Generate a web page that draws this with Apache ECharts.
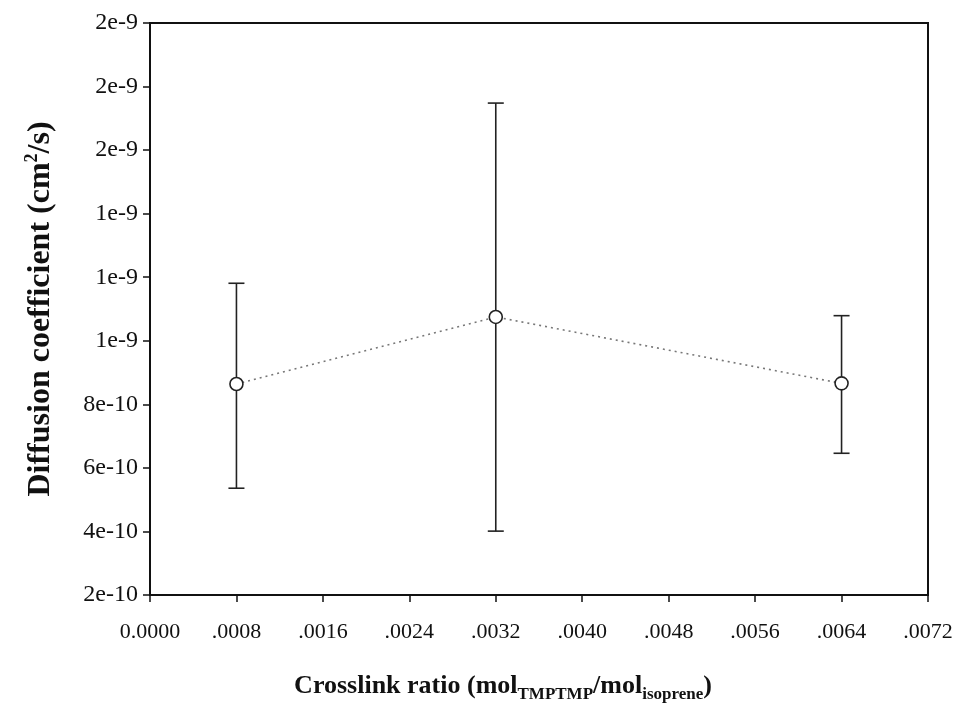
<!DOCTYPE html>
<html>
<head>
<meta charset="utf-8">
<script src="https://cdn.jsdelivr.net/npm/echarts@6/dist/echarts.min.js"></script>
<style>
  html, body { margin: 0; padding: 0; background: #fff; }
  #chart { width: 962px; height: 710px; }
</style>
</head>
<body>
<div id="chart"></div>
<script>
// Data
var crosslinkRatio = [0.0008, 0.0032, 0.0064];
var diffusionMean  = [8.64e-10, 1.075e-9, 8.66e-10];
var errorLow       = [5.36e-10, 4.01e-10, 6.46e-10];
var errorHigh      = [1.181e-9, 1.748e-9, 1.079e-9];

var xMin = 0, xMax = 0.0072, xStep = 0.0008;
var yMin = 2e-10, yMax = 2e-9, yStep = 2e-10;

var serif = '"Liberation Serif", "DejaVu Serif", serif';

var lineData = crosslinkRatio.map(function (x, i) { return [x, diffusionMean[i]]; });
var errData = crosslinkRatio.map(function (x, i) { return [x, errorLow[i], errorHigh[i]]; });

var chart = echarts.init(document.getElementById('chart'), null, { renderer: 'canvas' });
chart.setOption({
  backgroundColor: '#ffffff',
  animation: false,
  grid: {
    left: 150, right: 34, top: 23, bottom: 115,
    show: true, borderColor: '#111', borderWidth: 2, backgroundColor: 'transparent'
  },
  xAxis: {
    type: 'value', min: xMin, max: xMax, interval: xStep,
    name: '{a|Crosslink ratio (mol}{s|TMPTMP}{a|/mol}{s|isoprene}{a|)}',
    nameLocation: 'middle', nameGap: 76,
    nameTextStyle: {
      padding: [0, 72, 0, 0],
      rich: {
        a: { fontFamily: serif, fontWeight: 'bold', fontSize: 26, color: '#111', verticalAlign: 'bottom', lineHeight: 28 },
        s: { fontFamily: serif, fontWeight: 'bold', fontSize: 17, color: '#111', verticalAlign: 'bottom', lineHeight: 10, padding: [0, 0, -4, 0] }
      }
    },
    axisLine: { lineStyle: { color: '#111', width: 2 } },
    axisTick: { show: true, inside: false, length: 7, lineStyle: { color: '#111', width: 1.5 } },
    axisLabel: {
      margin: 26, fontFamily: serif, fontSize: 22, color: '#111',
      formatter: function (v) {
        if (Math.abs(v) < 1e-12) return '0.0000';
        return v.toFixed(4).replace(/^0/, '');
      }
    },
    splitLine: { show: false }
  },
  yAxis: {
    type: 'value', min: yMin, max: yMax, interval: yStep,
    name: '{a|Diffusion coefficient (cm}{p|2}{a|/s)}',
    nameLocation: 'middle', nameGap: 93, nameRotate: 90,
    nameTextStyle: {
      rich: {
        a: { fontFamily: serif, fontWeight: 'bold', fontSize: 32, color: '#111', verticalAlign: 'bottom', lineHeight: 34 },
        p: { fontFamily: serif, fontWeight: 'bold', fontSize: 18, color: '#111', verticalAlign: 'top', lineHeight: 14 }
      }
    },
    axisLine: { lineStyle: { color: '#111', width: 2 } },
    axisTick: { show: true, inside: false, length: 7, lineStyle: { color: '#111', width: 1.5 } },
    axisLabel: {
      margin: 12, fontFamily: serif, fontSize: 24, color: '#111',
      formatter: function (v) { return Number(v).toExponential(0).replace('+', ''); }
    },
    splitLine: { show: false }
  },
  series: [
    {
      type: 'custom',
      data: errData,
      z: 3,
      renderItem: function (params, api) {
        var x = api.value(0);
        var lo = api.coord([x, api.value(1)]);
        var hi = api.coord([x, api.value(2)]);
        var cap = 8;
        var style = { stroke: '#222', lineWidth: 1.6 };
        return {
          type: 'group',
          children: [
            { type: 'line', shape: { x1: lo[0], y1: lo[1], x2: hi[0], y2: hi[1] }, style: style },
            { type: 'line', shape: { x1: lo[0] - cap, y1: lo[1], x2: lo[0] + cap, y2: lo[1] }, style: style },
            { type: 'line', shape: { x1: hi[0] - cap, y1: hi[1], x2: hi[0] + cap, y2: hi[1] }, style: style }
          ]
        };
      }
    },
    {
      type: 'line',
      data: lineData,
      z: 5,
      symbol: 'circle',
      symbolSize: 13,
      itemStyle: { color: '#fff', borderColor: '#222', borderWidth: 1.6 },
      lineStyle: { color: '#777', width: 1.6, type: [2, 4] }
    }
  ]
});
</script>
</body>
</html>
